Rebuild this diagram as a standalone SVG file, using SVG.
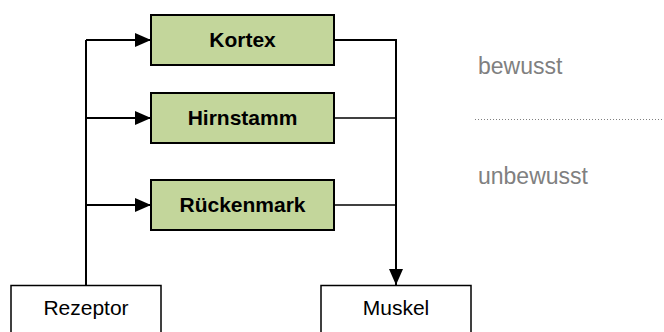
<svg xmlns="http://www.w3.org/2000/svg" width="664" height="332" viewBox="0 0 664 332">
  <style>
    .stage { fill: #C3D69B; stroke: #000; stroke-width: 2; }
    .end { fill: #fff; stroke: #000; stroke-width: 1.5; }
    .label { font-family: "Liberation Sans", Arial, sans-serif; font-size: 21px; fill: #000; text-anchor: middle; }
    .bold { font-weight: bold; }
    .level { font-family: "Liberation Sans", Arial, sans-serif; font-size: 23px; fill: #808080; }
    .wire { fill: none; stroke: #000; stroke-width: 2; }
    .thin { fill: none; stroke: #000; stroke-width: 1.5; }
  </style>
  <defs>
    <marker id="arrow" viewBox="0 0 16 14" refX="16" refY="7" markerWidth="16" markerHeight="14" markerUnits="userSpaceOnUse" orient="auto">
      <path d="M0,0 L16,7 L0,14 z" fill="#000"/>
    </marker>
  </defs>

  <!-- connectors -->
  <g id="connectors">
    <path class="wire" d="M86,286 V40"/>
    <path class="wire" d="M86,40 H151" marker-end="url(#arrow)"/>
    <path class="wire" d="M86,118 H151" marker-end="url(#arrow)"/>
    <path class="wire" d="M86,205 H151" marker-end="url(#arrow)"/>
    <path class="wire" d="M334,40 H396 V285" marker-end="url(#arrow)"/>
    <path class="thin" d="M334,118 H396"/>
    <path class="thin" d="M334,205 H396"/>
  </g>

  <!-- processing levels -->
  <g id="kortex">
    <rect class="stage" x="151" y="15" width="183" height="50"/>
    <text class="label bold" x="242.5" y="47">Kortex</text>
  </g>
  <g id="hirnstamm">
    <rect class="stage" x="151" y="93" width="183" height="50"/>
    <text class="label bold" x="242.5" y="125">Hirnstamm</text>
  </g>
  <g id="rueckenmark">
    <rect class="stage" x="151" y="180" width="183" height="50"/>
    <text class="label bold" x="242.5" y="212">Rückenmark</text>
  </g>

  <!-- receptor and effector -->
  <g id="rezeptor">
    <rect class="end" x="11" y="285.5" width="150" height="60"/>
    <text class="label" x="86" y="315">Rezeptor</text>
  </g>
  <g id="muskel">
    <rect class="end" x="321" y="285.5" width="150" height="60"/>
    <text class="label" x="396" y="315">Muskel</text>
  </g>

  <!-- conscious / unconscious divide -->
  <g id="ebenen">
    <text class="level" x="478" y="74">bewusst</text>
    <line x1="475" y1="119.5" x2="664" y2="119.5" stroke="#808080" stroke-width="1" stroke-dasharray="1,2"/>
    <text class="level" x="478" y="183.5">unbewusst</text>
  </g>
</svg>
